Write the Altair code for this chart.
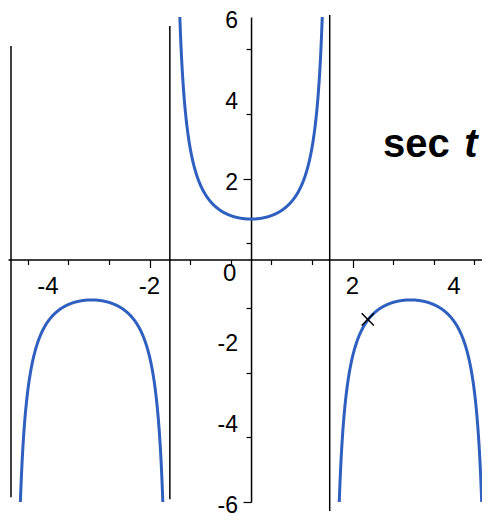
import altair as alt
import numpy as np
import pandas as pd

# ---- data -------------------------------------------------------------
# three branches of sec t between its asymptotes (t in radians)
branch_names = ["left", "middle", "right"]
branch_starts = [-4.712, -1.571, 1.571]
branch_ends = [-1.571, 1.571, 4.712]

# vertical connector lines drawn at the discontinuities
asym_x = [-4.73, -1.60, 1.55]
asym_top = [5.28, 5.78, 6.05]
asym_bottom = [-5.88, -5.93, -6.22]

# marked point on the right branch
mark_t = [2.30]
mark_y = [-1.48]

# tick values and labels
x_ticks = [round(0.4 * k, 1) for k in range(-11, 12)]
y_ticks = [round(0.4 * k, 1) for k in range(-15, 16)]
x_label_values = [-4, -2, 2, 4]
y_label_values = [6, 4, 2, -2, -4, -6]

# title text pieces
title_words = ["sec"]
title_var = ["t"]

# ---- build tables -----------------------------------------------------
rows = []
for name, a, b in zip(branch_names, branch_starts, branch_ends):
    ts = np.linspace(a + 0.002, b - 0.002, 400)
    vals = 1.0 / np.cos(ts)
    for t, v in zip(ts, vals):
        if abs(v) <= 6.6:
            rows.append({"t": float(t), "sec": float(v), "branch": name})
curve_df = pd.DataFrame(rows)

asym_df = pd.DataFrame({"x": asym_x, "y": asym_top, "y2": asym_bottom})
mark_df = pd.DataFrame({"t": mark_t, "sec": mark_y})
xl_df = pd.DataFrame({"v": x_label_values, "label": [str(v) for v in x_label_values]})
yl_df = pd.DataFrame({"v": y_label_values, "label": [str(v) for v in y_label_values]})
title_df = pd.DataFrame({"x": [2.60], "y": [2.54], "label": title_words})
var_df = pd.DataFrame({"x": [4.20], "y": [2.54], "label": title_var})
zero_df = pd.DataFrame({"x": [-0.42], "y": [-0.35], "label": ["0"]})

W, H = 474, 485
XDOM = [-4.789, 4.551]
YDOM = [-6, 6]
FONT = "Liberation Sans"
BLUE = "#2f5fbf"

major = "datum.value % 2 === 0"

common = dict(
    grid=False,
    title=None,
    labels=False,
    domainColor="black",
    domainWidth=1.5,
    tickColor="black",
    tickWidth=1.2,
    tickSize={"condition": {"test": major, "value": 8}, "value": 5},
)

x_axis = alt.Axis(orient="bottom", offset=-H / 2, values=x_ticks, **common)
y_axis = alt.Axis(
    orient="left",
    offset=-(0 - XDOM[0]) * W / (XDOM[1] - XDOM[0]),
    values=y_ticks,
    **common,
)

xs = alt.Scale(domain=XDOM, nice=False, zero=False)
ys = alt.Scale(domain=YDOM, nice=False, zero=False)

curves = alt.Chart(curve_df).mark_line(color=BLUE, strokeWidth=3, clip=True).encode(
    x=alt.X("t:Q", scale=xs, axis=x_axis),
    y=alt.Y("sec:Q", scale=ys, axis=y_axis),
    detail="branch:N",
    order="t:Q",
)

asym = alt.Chart(asym_df).mark_rule(color="black", strokeWidth=1.5).encode(
    x=alt.X("x:Q", title=None),
    y=alt.Y("y:Q", title=None),
    y2="y2:Q",
)

point = alt.Chart(mark_df).mark_point(
    shape="M-1,-1L1,1M-1,1L1,-1", size=150, color="black", strokeWidth=1.5, filled=False, opacity=1
).encode(
    x=alt.X("t:Q", title=None),
    y=alt.Y("sec:Q", title=None),
)

xlabels = alt.Chart(xl_df).mark_text(
    font=FONT, fontSize=24, align="center", baseline="top", dy=15, color="black"
).encode(x=alt.X("v:Q", title=None), y=alt.datum(0), text="label:N")

ylabels = alt.Chart(yl_df).mark_text(
    font=FONT, fontSize=23, align="right", baseline="middle", dx=-13, dy=4, color="black"
).encode(x=alt.datum(0), y=alt.Y("v:Q", title=None), text="label:N")

title1 = alt.Chart(title_df).mark_text(
    font=FONT, fontSize=40, fontWeight="bold", align="left", baseline="alphabetic", color="black"
).encode(x=alt.X("x:Q", title=None), y=alt.Y("y:Q", title=None), text="label:N")

title2 = alt.Chart(var_df).mark_text(
    font=FONT, fontSize=40, fontWeight="bold", fontStyle="italic", align="left",
    baseline="alphabetic", color="black"
).encode(x=alt.X("x:Q", title=None), y=alt.Y("y:Q", title=None), text="label:N")

zero = alt.Chart(zero_df).mark_text(
    font=FONT, fontSize=24, align="center", baseline="middle", color="black"
).encode(x=alt.X("x:Q", title=None), y=alt.Y("y:Q", title=None), text="label:N")

chart = alt.layer(curves, asym, point, xlabels, ylabels, title1, title2, zero).properties(
    width=W,
    height=H,
    padding={"left": 0, "top": 9, "right": 0, "bottom": 17},
    autosize=alt.AutoSizeParams(type="none"),
    background="white",
).configure_view(stroke=None)

chart.save("out.html", embed_options={"renderer": "svg", "actions": False})
